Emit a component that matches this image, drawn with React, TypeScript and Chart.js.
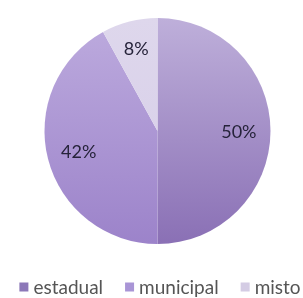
import React, { useEffect, useRef } from "react";
import { Chart, registerables } from "chart.js";

Chart.register(...registerables);

const categories = ["estadual", "municipal", "misto"];
const values = [50, 42, 8];
const labels = ["50%", "42%", "8%"];
const topColors = ["#BEAFDA", "#BDABDE", "#DED7EC"];
const bottomColors = ["#8A70B5", "#9C83CA", "#D6CDE8"];
const legendColors = ["#8C78B8", "#A995D6", "#D4CCE4"];

const FONT = "Lato, 'Open Sans', sans-serif";

const labelPlugin = {
  id: "sliceLabels",
  afterDatasetsDraw(chart: any) {
    const ctx = chart.ctx;
    const meta = chart.getDatasetMeta(0);
    ctx.save();
    ctx.font = `18px ${FONT}`;
    ctx.fillStyle = "#26233A";
    ctx.textAlign = "center";
    ctx.textBaseline = "middle";
    const factors = [0.72, 0.72, 0.76];
    meta.data.forEach((arc: any, i: number) => {
      const r = arc.outerRadius;
      const mid = (arc.startAngle + arc.endAngle) / 2;
      const f = factors[i];
      ctx.fillText(labels[i], arc.x + Math.cos(mid) * r * f, arc.y + Math.sin(mid) * r * f + 1);
    });
    ctx.restore();
  },
};

const legendPlugin = {
  id: "customLegend",
  afterDraw(chart: any) {
    const ctx = chart.ctx;
    ctx.save();
    ctx.font = `19px ${FONT}`;
    ctx.textBaseline = "middle";
    ctx.textAlign = "left";
    const box = 9;
    const gap = 5;
    const itemGap = 22;
    const widths = categories.map((c) => ctx.measureText(c).width);
    const total = widths.reduce((a, b) => a + b, 0) + categories.length * (box + gap) + itemGap * (categories.length - 1);
    let x = 160 - total / 2;
    const y = 288;
    categories.forEach((c, i) => {
      ctx.fillStyle = legendColors[i];
      ctx.fillRect(x, y - box / 2 - 1, box, box);
      x += box + gap;
      ctx.fillStyle = "#555555";
      ctx.fillText(c, x, y);
      x += widths[i] + itemGap;
    });
    ctx.restore();
  },
};

export default function App() {
  const ref = useRef<HTMLCanvasElement>(null);
  useEffect(() => {
    const canvas = ref.current!;
    const chart = new Chart(canvas, {
      type: "pie",
      data: {
        labels: categories,
        datasets: [
          {
            data: values,
            borderWidth: 0,
            backgroundColor: (c: any) => {
              const ch = c.chart;
              const area = ch.chartArea;
              const i = c.dataIndex ?? 0;
              if (!area) return bottomColors[i];
              const g = ch.ctx.createLinearGradient(0, area.top, 0, area.bottom);
              g.addColorStop(0, topColors[i]);
              g.addColorStop(1, bottomColors[i]);
              return g;
            },
          },
        ],
      },
      options: {
        responsive: false,
        animation: false,
        layout: { padding: { top: 18, left: 12, right: 0, bottom: 54 } },
        plugins: {
          tooltip: { enabled: false },
          legend: { display: false },
        },
      },
      plugins: [labelPlugin, legendPlugin],
    });
    return () => chart.destroy();
  }, []);
  return (
    <div style={{ position: "absolute", left: 0, top: 0, width: 303, height: 298, background: "#fff" }}>
      <canvas ref={ref} width={303} height={298} style={{ display: "block" }} />
    </div>
  );
}
